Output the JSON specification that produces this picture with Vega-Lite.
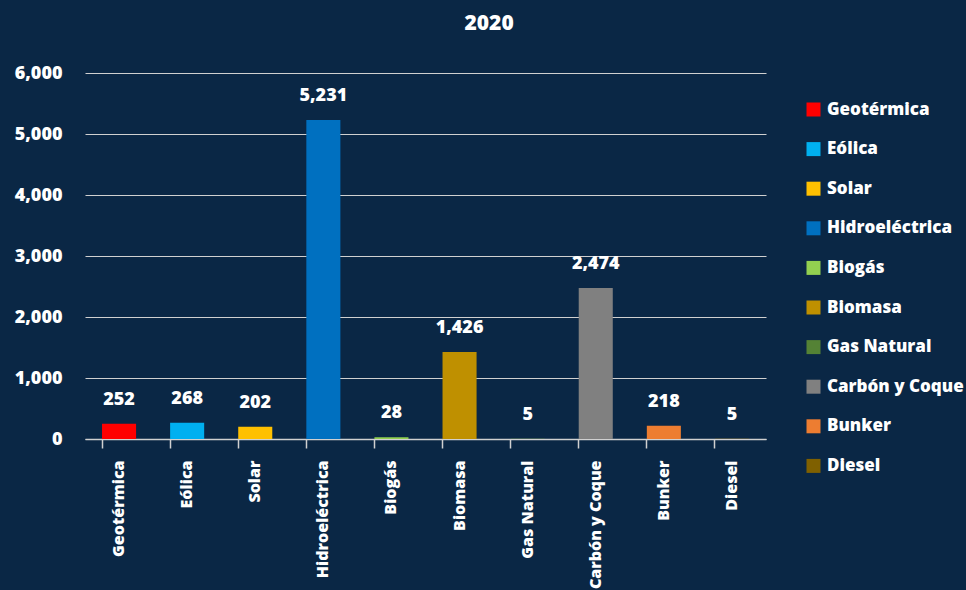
{
  "$schema": "https://vega.github.io/schema/vega-lite/v6.json",
  "autosize": "none",
  "width": 681,
  "height": 366,
  "padding": {"left": 85, "top": 73, "right": 200, "bottom": 151},
  "background": "#0a2745",
  "title": {"text": "2020", "anchor": "middle", "frame": "bounds", "fontSize": 21, "font": "Open Sans", "fontWeight": 800, "color": "white", "offset": 30},
  "config": {
    "view": {"stroke": null},
    "font": "Open Sans"
  },
  "data": {
    "values": [
      {"fuente": "Geotérmica", "valor": 252},
      {"fuente": "Eólica", "valor": 268},
      {"fuente": "Solar", "valor": 202},
      {"fuente": "Hidroeléctrica", "valor": 5231},
      {"fuente": "Biogás", "valor": 28},
      {"fuente": "Biomasa", "valor": 1426},
      {"fuente": "Gas Natural", "valor": 5},
      {"fuente": "Carbón y Coque", "valor": 2474},
      {"fuente": "Bunker", "valor": 218},
      {"fuente": "Diesel", "valor": 5}
    ]
  },
  "encoding": {
    "x": {
      "field": "fuente", "type": "nominal", "sort": null,
      "scale": {"paddingInner": 0.5, "paddingOuter": 0.25},
      "axis": {
        "title": null, "labelAngle": -90, "labelColor": "white", "labelFont": "Open Sans", "labelFontWeight": 800, "labelFontSize": 16,
        "domainColor": "#d0d0d0", "domainWidth": 1.5, "tickColor": "#d0d0d0", "tickWidth": 1.5, "tickSize": 9, "bandPosition": 0,
        "labelPadding": 12, "grid": false
      }
    },
    "y": {
      "field": "valor", "type": "quantitative",
      "scale": {"domain": [0, 6000]},
      "axis": {
        "title": null, "format": ",d", "values": [0, 1000, 2000, 3000, 4000, 5000, 6000],
        "labelColor": "white", "labelFont": "Open Sans", "labelFontWeight": 800, "labelFontSize": 18,
        "domain": false, "ticks": false, "labelPadding": 23,
        "grid": true, "gridColor": "#d0d0d0", "gridWidth": 1.2
      }
    }
  },
  "layer": [
    {
      "mark": {"type": "bar"},
      "encoding": {
        "color": {
          "field": "fuente", "type": "nominal", "sort": null,
          "scale": {
            "domain": ["Geotérmica", "Eólica", "Solar", "Hidroeléctrica", "Biogás", "Biomasa", "Gas Natural", "Carbón y Coque", "Bunker", "Diesel"],
            "range": ["#ff0000", "#00b0f0", "#ffc000", "#0070c0", "#92d050", "#bf9000", "#548235", "#808080", "#ed7d31", "#7f6000"]
          },
          "legend": {
            "title": null, "orient": "none", "legendX": 720, "legendY": 28,
            "symbolType": "square", "symbolSize": 196, "symbolStrokeWidth": 0, "symbolOpacity": 1,
            "labelColor": "white", "labelFont": "Open Sans", "labelFontWeight": 800, "labelFontSize": 17,
            "rowPadding": 21.6, "labelOffset": 5, "labelLimit": 200
          }
        }
      }
    },
    {
      "mark": {"type": "text", "dy": -24, "baseline": "middle", "color": "white", "font": "Open Sans", "fontWeight": 800, "fontSize": 18},
      "encoding": {
        "text": {"field": "valor", "type": "quantitative", "format": ","}
      }
    }
  ]
}
